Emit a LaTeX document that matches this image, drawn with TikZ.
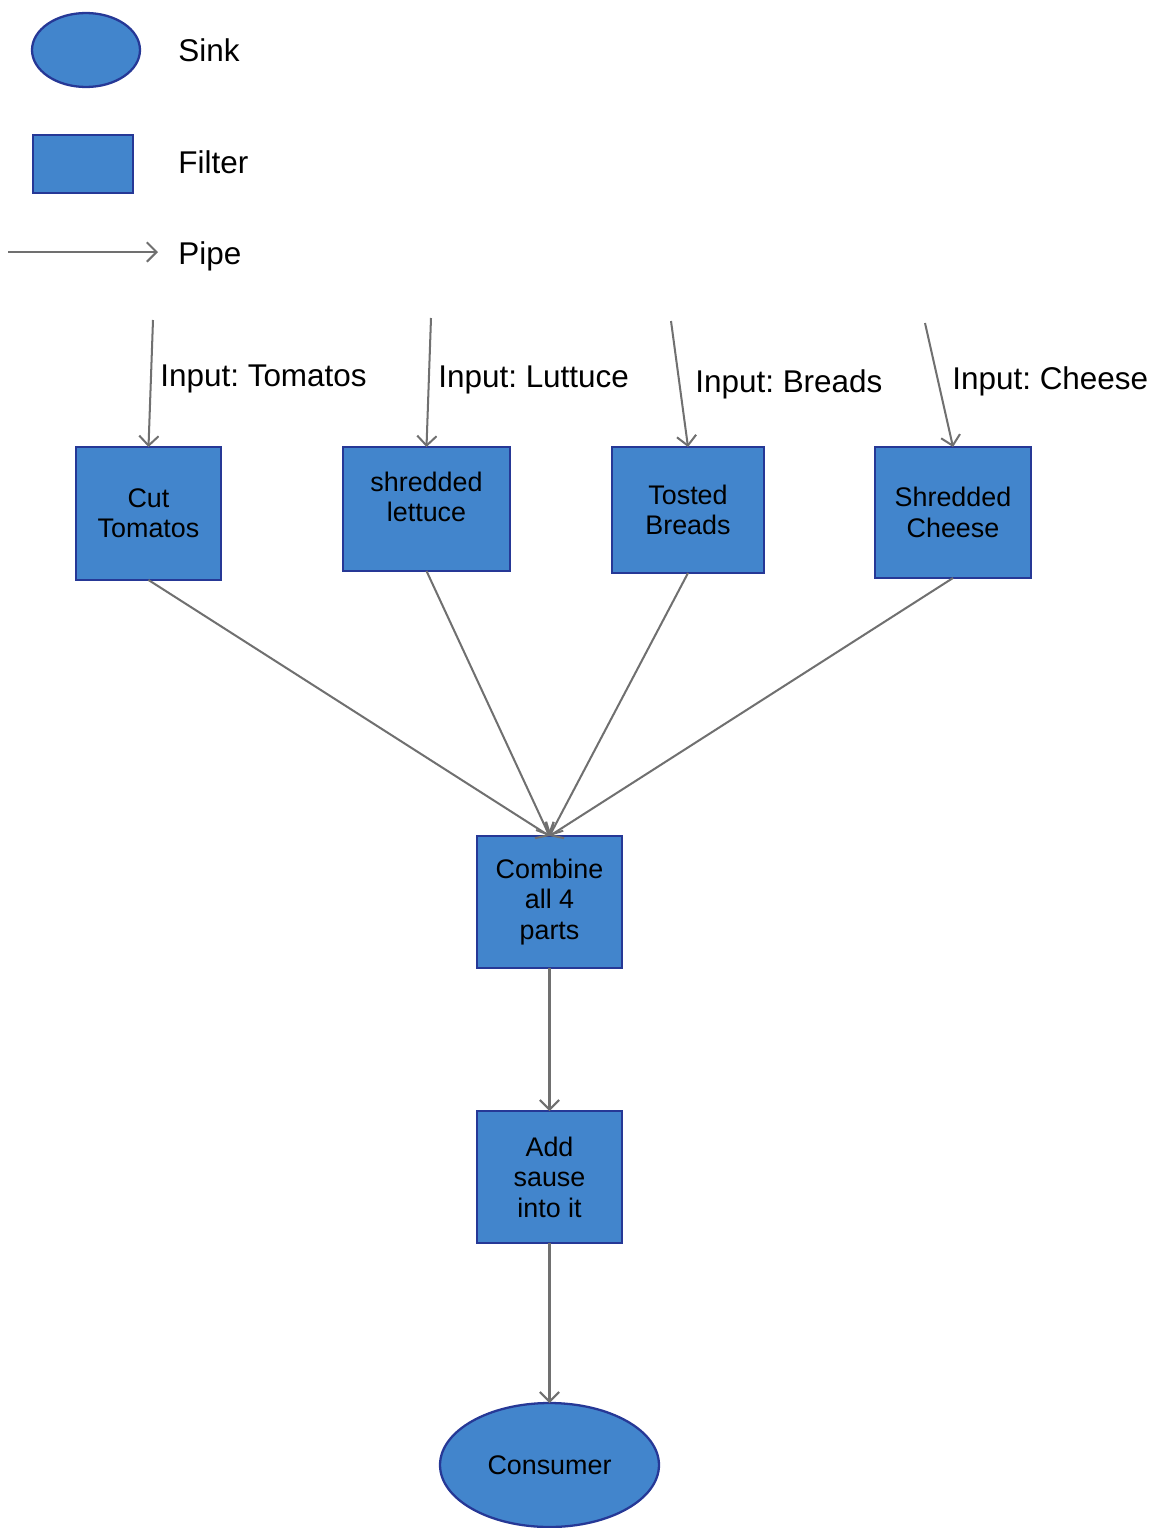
\documentclass[tikz,border=0pt]{standalone}
\usepackage{fontspec}
\setmainfont{Liberation Sans}
\frenchspacing
\usetikzlibrary{arrows.meta,shapes.geometric}
\definecolor{boxblue}{RGB}{66,133,204}
\definecolor{boxedge}{RGB}{38,56,150}
\definecolor{pipegray}{RGB}{112,112,112}
\tikzset{
  filter/.style={draw=boxedge,fill=boxblue,line width=1.3pt,outer sep=0pt,align=center,
    font=\fontsize{15.3}{17.3}\selectfont},
  sink/.style={ellipse,draw=boxedge,fill=boxblue,line width=1.3pt,outer sep=0pt,
    font=\fontsize{15.3}{17.3}\selectfont},
  pipe/.style={draw=pipegray,line width=1.15pt,-{Straight Barb[length=5.5pt,width=11pt]}},
  lbl/.style={anchor=west,inner sep=0pt,font=\fontsize{17.9}{21}\selectfont}
}
\begin{document}
\begin{tikzpicture}[x=0.02cm,y=-0.02cm]
  \useasboundingbox (0,0) rectangle (1156,1528);
  % legend
  \node[sink,minimum width=2.16cm,minimum height=1.48cm] (legsink) at (86,50) {};
  \node[lbl] (legsinktxt) at (178,50) {Sink};
  \node[filter,minimum width=2cm,minimum height=1.16cm] (legfilter) at (83,164) {};
  \node[lbl] (legfiltertxt) at (178,162) {Filter};
  \coordinate (legpipea) at (8,252);
  \coordinate (legpipeb) at (158,252);
  \draw[pipe] (legpipea) -- (legpipeb);
  \node[lbl] (legpipetxt) at (178,256) {Pipe};
  % filters
  \node[filter,minimum width=2.9cm,minimum height=2.66cm] (tomatos) at (148.5,513.5) {Cut\\Tomatos};
  \node[filter,minimum width=3.34cm,minimum height=2.48cm] (lettuce) at (426.5,509) {};
  \node[inner sep=0pt,align=center,font=\fontsize{15.3}{17.3}\selectfont] (lettucetxt) at (426.5,497) {shredded\\lettuce};
  \node[filter,minimum width=3.04cm,minimum height=2.52cm] (breads) at (688,510) {Tosted\\Breads};
  \node[filter,minimum width=3.12cm,minimum height=2.62cm] (cheese) at (953,512.5) {Shredded\\Cheese};
  \node[filter,minimum width=2.9cm,minimum height=2.64cm] (combine) at (549.5,902) {Combine\\all 4\\parts};
  \node[filter,minimum width=2.9cm,minimum height=2.64cm] (sause) at (549.5,1177) {Add\\sause\\into it};
  \node[sink,minimum width=4.38cm,minimum height=2.48cm] (consumer) at (549.5,1465) {Consumer};
  % inputs
  \coordinate (intomatos) at (153,320);
  \coordinate (inlettuce) at (431,318);
  \coordinate (inbreads) at (671,321);
  \coordinate (incheese) at (925,323);
  \draw[pipe] (intomatos) -- (tomatos.north);
  \draw[pipe] (inlettuce) -- (lettuce.north);
  \draw[pipe] (inbreads) -- (breads.north);
  \draw[pipe] (incheese) -- (cheese.north);
  \node[lbl] (lbltomatos) at (160,379) {Input: Tomatos};
  \node[lbl] (lbllettuce) at (438,380) {Input: Luttuce};
  \node[lbl] (lblbreads) at (695,384) {Input: Breads};
  \node[lbl] (lblcheese) at (952,381) {Input: Cheese};
  % pipes
  \draw[pipe] (tomatos.south) -- (combine.north);
  \draw[pipe] (lettuce.south) -- (combine.north);
  \draw[pipe] (breads.south) -- (combine.north);
  \draw[pipe] (cheese.south) -- (combine.north);
  \draw[pipe] (combine) -- (sause);
  \draw[pipe] (sause) -- (consumer);
\end{tikzpicture}
\end{document}
